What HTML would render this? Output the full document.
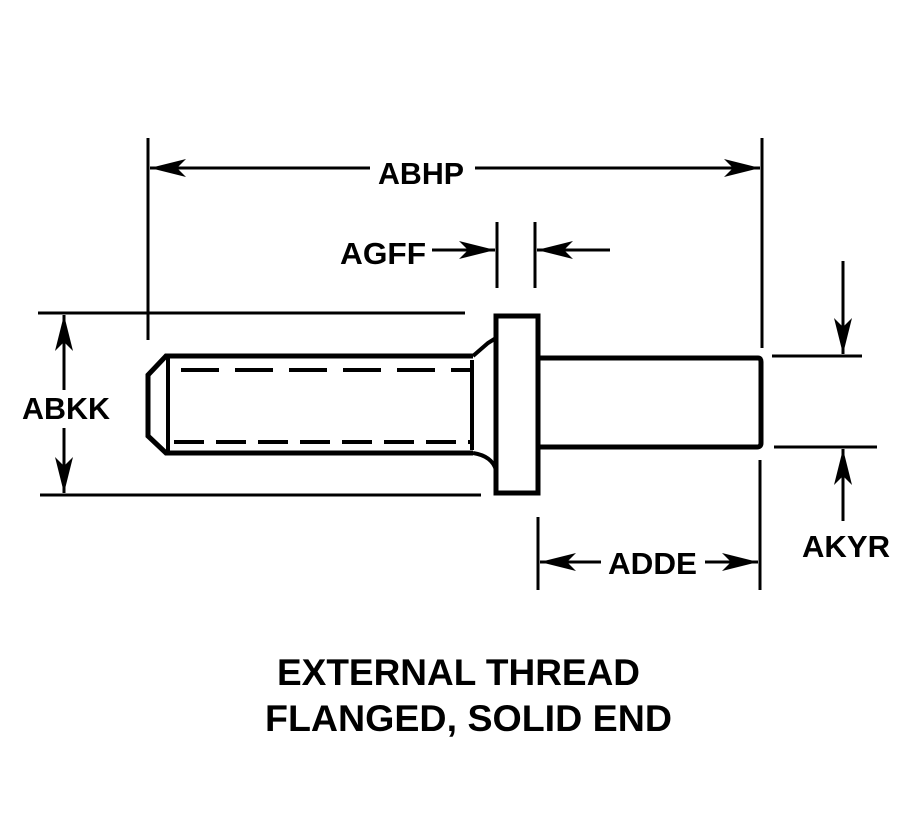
<!DOCTYPE html>
<html><head><style>
html,body{margin:0;padding:0;background:#fff;}
svg{display:block;}
text{font-family:"Liberation Sans",Arial,sans-serif;font-weight:bold;fill:#000;}
</style></head><body>
<svg width="907" height="818" viewBox="0 0 907 818" xmlns="http://www.w3.org/2000/svg">
<defs>
<marker id="a" viewBox="0 0 36 18" refX="36" refY="9" markerWidth="36" markerHeight="18" markerUnits="userSpaceOnUse" orient="auto">
<path d="M0,0 L36,9 L0,18 L9,9 Z" fill="#000"/>
</marker>
</defs>
<g stroke="#000" fill="none">
<line x1="148" y1="138" x2="148" y2="340" stroke-width="3"/>
<line x1="762" y1="138" x2="762" y2="348" stroke-width="3"/>
<line x1="370" y1="168" x2="150" y2="168" stroke-width="3" marker-end="url(#a)"/>
<line x1="475" y1="168" x2="760" y2="168" stroke-width="3" marker-end="url(#a)"/>
<line x1="497" y1="222" x2="497" y2="288" stroke-width="3"/>
<line x1="535" y1="222" x2="535" y2="288" stroke-width="3"/>
<line x1="432" y1="250" x2="495" y2="250" stroke-width="3" marker-end="url(#a)"/>
<line x1="610" y1="250" x2="537" y2="250" stroke-width="3" marker-end="url(#a)"/>
<line x1="38" y1="313" x2="465" y2="313" stroke-width="3"/>
<line x1="40" y1="495" x2="481" y2="495" stroke-width="3"/>
<line x1="64" y1="390" x2="64" y2="315" stroke-width="3" marker-end="url(#a)"/>
<line x1="64" y1="428" x2="64" y2="493" stroke-width="3" marker-end="url(#a)"/>
<path d="M473,356 L166,356 L148,375 L148,436 L166,453 L473,453" stroke-width="5"/>
<line x1="168" y1="356" x2="168" y2="453" stroke-width="4"/>
<line x1="472" y1="360" x2="472" y2="450" stroke-width="4"/>
<line x1="181" y1="370" x2="472" y2="370" stroke-width="4" stroke-dasharray="38,16"/>
<line x1="174" y1="442" x2="472" y2="442" stroke-width="4" stroke-dasharray="30,12"/>
<path d="M473,356 L488,343 L496,338" stroke-width="4"/>
<path d="M473,453 Q492,456 496,470 L496,480" stroke-width="4"/>
<rect x="496" y="316" width="42" height="177" stroke-width="5"/>
<path d="M538,358 L758,358 Q761,358 761,362 L761,443 Q761,447 757,447 L538,447" stroke-width="5"/>
<line x1="772" y1="356" x2="862" y2="356" stroke-width="3"/>
<line x1="774" y1="447" x2="877" y2="447" stroke-width="3"/>
<line x1="843" y1="261" x2="843" y2="354" stroke-width="3" marker-end="url(#a)"/>
<line x1="843" y1="521" x2="843" y2="449" stroke-width="3" marker-end="url(#a)"/>
<line x1="538" y1="517" x2="538" y2="590" stroke-width="3"/>
<line x1="760" y1="460" x2="760" y2="590" stroke-width="3"/>
<line x1="601" y1="562" x2="540" y2="562" stroke-width="3" marker-end="url(#a)"/>
<line x1="705" y1="562" x2="758" y2="562" stroke-width="3" marker-end="url(#a)"/>
</g>
<text x="378" y="184" font-size="31" textLength="86" lengthAdjust="spacingAndGlyphs">ABHP</text>
<text x="340" y="264" font-size="31" textLength="86" lengthAdjust="spacingAndGlyphs">AGFF</text>
<text x="22" y="419" font-size="31" textLength="88" lengthAdjust="spacingAndGlyphs">ABKK</text>
<text x="608" y="574" font-size="31" textLength="89" lengthAdjust="spacingAndGlyphs">ADDE</text>
<text x="802" y="557" font-size="31" textLength="88" lengthAdjust="spacingAndGlyphs">AKYR</text>
<text x="277" y="685" font-size="37" textLength="363" lengthAdjust="spacingAndGlyphs">EXTERNAL THREAD</text>
<text x="265" y="731" font-size="37" textLength="407" lengthAdjust="spacingAndGlyphs">FLANGED, SOLID END</text>
</svg>
</body></html>
